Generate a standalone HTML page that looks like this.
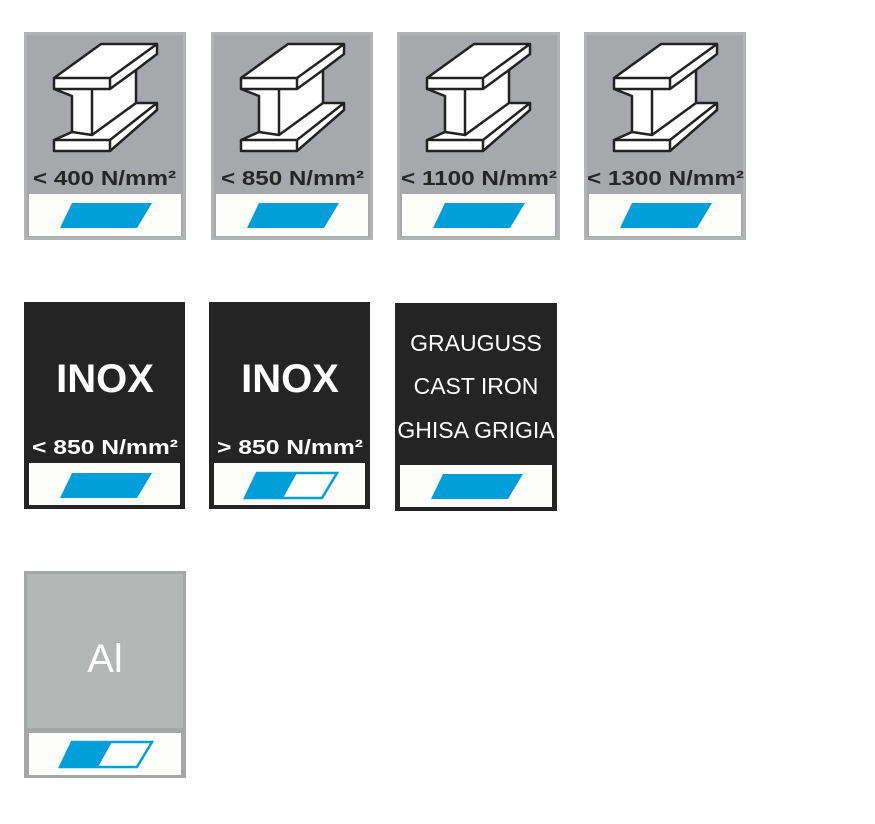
<!DOCTYPE html>
<html><head><meta charset="utf-8"><style>
html,body{margin:0;padding:0;background:#fff;}
svg{display:block;}
text{font-family:"Liberation Sans Narrow","Liberation Sans",sans-serif;font-weight:bold;}
</style></head><body>
<svg width="875" height="824" viewBox="0 0 875 824" xmlns="http://www.w3.org/2000/svg">
<defs>
<g id="beam" fill="#fff" stroke="#222" stroke-width="2.5" stroke-linejoin="round">
<polygon points="30,46 77,12 133,12 133,22 112,38 112,71 133,71 133,78 86,119 30,119 30,108 48,100 48,64 30,57"/>
<polyline fill="none" points="30,46 86,46 133,12"/>
<line x1="86" y1="46" x2="86" y2="57"/>
<polyline fill="none" points="30,57 86,57 112,38"/>
<line x1="68" y1="57" x2="68" y2="103"/>
<polyline fill="none" points="48,100 68,103 112,71"/>
<polyline fill="none" points="30,108 86,108 133,71"/>
<line x1="86" y1="108" x2="86" y2="119"/>
</g>
<g id="full"><polygon points="48,171 128,171 113,196 36,196" fill="#009fd9"/></g>
<g id="half">
<polygon points="48,171 128,171 113,196 36,196" fill="#fff" stroke="#009fd9" stroke-width="2.5"/>
<polygon points="48,171 88,171 74,196 36,196" fill="#009fd9"/>
</g>
</defs>

<g transform="translate(24,32)">
<rect x="0" y="0" width="162" height="208" fill="#b2b3b5"/><rect x="3" y="3" width="156" height="202" fill="#a7a8ab"/>
<use href="#beam"/>
<text x="9" y="153" font-size="20" fill="#262626" textLength="143" lengthAdjust="spacingAndGlyphs">&lt; 400 N/mm²</text>
<rect x="5" y="162" width="152" height="42" fill="#fdfdfc"/><use href="#full"/>
</g>
<g transform="translate(211,32)">
<rect x="0" y="0" width="162" height="208" fill="#b2b3b5"/><rect x="3" y="3" width="156" height="202" fill="#a7a8ab"/>
<use href="#beam"/>
<text x="10" y="153" font-size="20" fill="#262626" textLength="143" lengthAdjust="spacingAndGlyphs">&lt; 850 N/mm²</text>
<rect x="5" y="162" width="152" height="42" fill="#fdfdfc"/><use href="#full"/>
</g>
<g transform="translate(397,32)">
<rect x="0" y="0" width="163" height="208" fill="#b2b3b5"/><rect x="3" y="3" width="157" height="202" fill="#a7a8ab"/>
<use href="#beam"/>
<text x="4" y="153" font-size="20" fill="#262626" textLength="156" lengthAdjust="spacingAndGlyphs">&lt; 1100 N/mm²</text>
<rect x="5" y="162" width="153" height="42" fill="#fdfdfc"/><use href="#full"/>
</g>
<g transform="translate(584,32)">
<rect x="0" y="0" width="162" height="208" fill="#b2b3b5"/><rect x="3" y="3" width="156" height="202" fill="#a7a8ab"/>
<use href="#beam"/>
<text x="3" y="153" font-size="20" fill="#262626" textLength="157" lengthAdjust="spacingAndGlyphs">&lt; 1300 N/mm²</text>
<rect x="5" y="162" width="152" height="42" fill="#fdfdfc"/><use href="#full"/>
</g>

<g transform="translate(24,302)">
<rect x="0" y="0" width="161" height="207" fill="#232423"/>
<text x="81" y="90" text-anchor="middle" font-size="40" fill="#fff">INOX</text>
<text x="8" y="152" font-size="20" fill="#fff" textLength="146" lengthAdjust="spacingAndGlyphs">&lt; 850 N/mm²</text>
<rect x="5" y="161" width="151" height="42" fill="#fdfdfc"/><use href="#full"/>
</g>
<g transform="translate(209,302)">
<rect x="0" y="0" width="161" height="207" fill="#232423"/>
<text x="81" y="90" text-anchor="middle" font-size="40" fill="#fff">INOX</text>
<text x="8" y="152" font-size="20" fill="#fff" textLength="146" lengthAdjust="spacingAndGlyphs">&gt; 850 N/mm²</text>
<rect x="5" y="161" width="151" height="42" fill="#fdfdfc"/><use href="#half"/>
</g>
<g transform="translate(395,303)">
<rect x="0" y="0" width="162" height="208" fill="#232423"/>
<text x="81" y="48" text-anchor="middle" font-size="23" fill="#fff" style="font-weight:normal">GRAUGUSS</text>
<text x="81" y="91" text-anchor="middle" font-size="23" fill="#fff" style="font-weight:normal">CAST IRON</text>
<text x="81" y="135" text-anchor="middle" font-size="23" fill="#fff" style="font-weight:normal">GHISA GRIGIA</text>
<rect x="5" y="162" width="152" height="42" fill="#fdfdfc"/><use href="#full"/>
</g>

<g transform="translate(24,571)">
<rect x="0" y="0" width="162" height="207" fill="#a4a6a8"/>
<rect x="3" y="3" width="156" height="154" fill="#b3b8b7"/>
<text x="81" y="101" text-anchor="middle" font-size="40" fill="#fff" style="font-weight:normal">Al</text>
<rect x="5" y="162" width="152" height="42" fill="#fdfdfc"/><use href="#half"/>
</g>
</svg>
</body></html>
